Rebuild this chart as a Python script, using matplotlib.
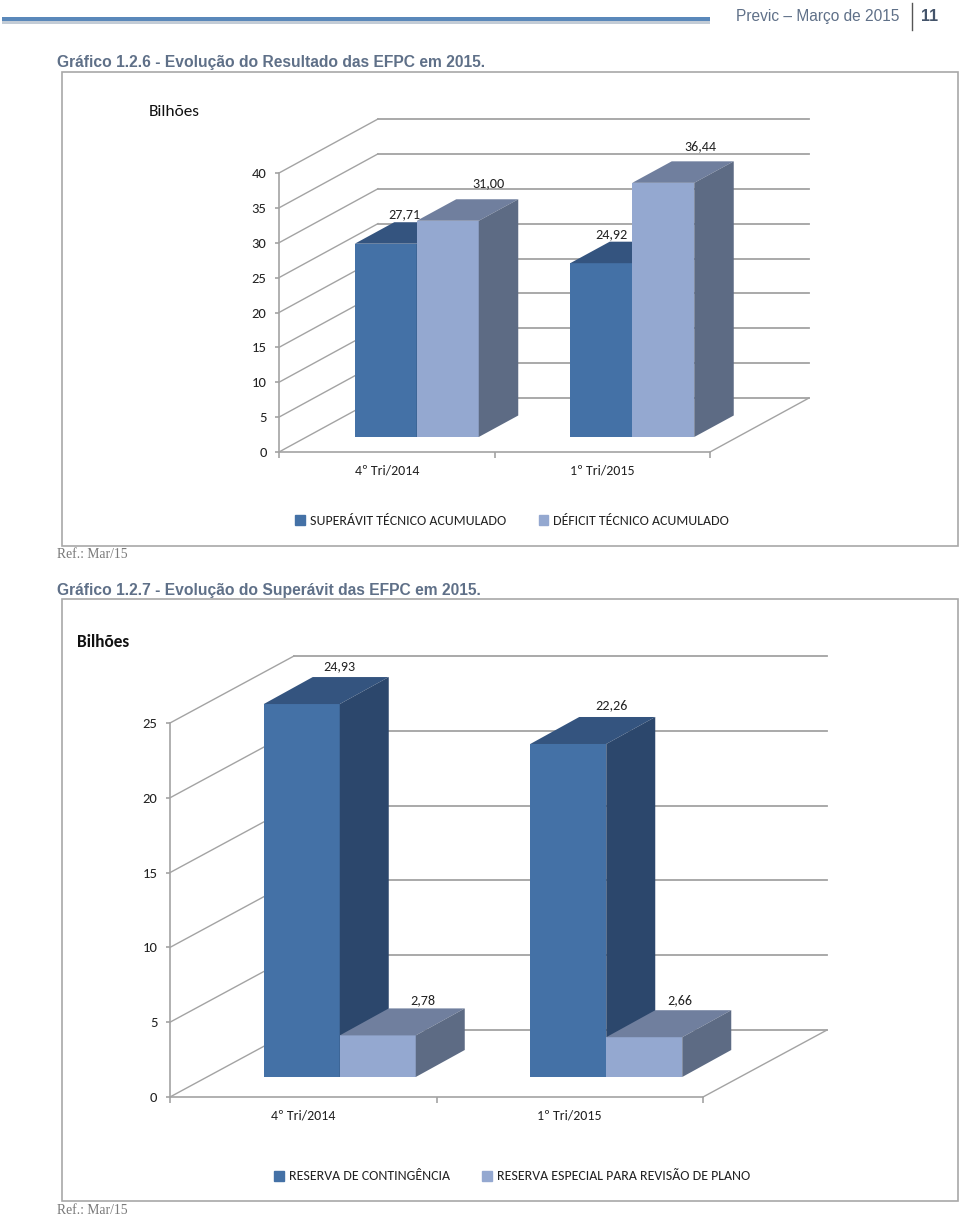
import matplotlib
matplotlib.use("Agg")
from matplotlib import pyplot as plt
from matplotlib.patches import Patch, Rectangle

W, H = 960, 1217
LABEL_FONT = ["Carlito", "Lato", "DejaVu Sans"]
PAGE_FONT = "Liberation Sans"
GRID = "#a3a3a3"
TITLE_COLOR = "#5f7088"

# grafico 1.2.6
categories_1 = ["4º Tri/2014", "1º Tri/2015"]
superavit = [27.71, 24.92]
deficit = [31.00, 36.44]
labels_1a = ["27,71", "24,92"]
labels_1b = ["31,00", "36,44"]
ticks_1 = [0, 5, 10, 15, 20, 25, 30, 35, 40]
legend_1 = ["SUPERÁVIT TÉCNICO ACUMULADO", "DÉFICIT TÉCNICO ACUMULADO"]

# grafico 1.2.7
categories_2 = ["4º Tri/2014", "1º Tri/2015"]
contingencia = [24.93, 22.26]
especial = [2.78, 2.66]
labels_2a = ["24,93", "22,26"]
labels_2b = ["2,78", "2,66"]
ticks_2 = [0, 5, 10, 15, 20, 25]
legend_2 = ["RESERVA DE CONTINGÊNCIA", "RESERVA ESPECIAL PARA REVISÃO DE PLANO"]

blue = ("#4471a6", "#34547f", "#2c476c")      # front, top, side
light = ("#94a8d0", "#707f9e", "#5d6b84")


def px_axes(fig, x0, x1, y0, y1):
    return fig.add_axes([x0 / W, 1 - y0 / H, (x1 - x0) / W, (y0 - y1) / H])


def make_chart(fig, box, ymax, ticks, cats, depth, fs=10.5):
    x0, x1, y0, y1 = box
    ax = px_axes(fig, x0, x1, y0, y1)
    ax.set_xlim(0, len(cats))
    ax.set_ylim(0, ymax)
    ax.patch.set_visible(False)
    for s in ["top", "right"]:
        ax.spines[s].set_visible(False)
    for s in ["left", "bottom"]:
        ax.spines[s].set_color(GRID)
        ax.spines[s].set_linewidth(1.2)
    ax.set_yticks(ticks)
    ax.set_xticks(range(len(cats) + 1))
    ax.set_xticklabels([""] * (len(cats) + 1))
    ax.set_xticks([i + 0.5 for i in range(len(cats))], cats, minor=True)
    ax.tick_params(axis="y", length=3, color=GRID, width=1.2, pad=6, labelsize=fs, labelcolor="#222222")
    ax.tick_params(axis="x", which="major", length=4, color=GRID, width=1.2)
    ax.tick_params(axis="x", which="minor", length=0, pad=9, labelsize=10, labelcolor="#222222")
    for t in ax.get_yticklabels() + ax.get_xticklabels(minor=True):
        t.set_fontfamily(LABEL_FONT)
    # pixel depth of the walls -> data units
    kx = len(cats) / (x1 - x0)
    ky = ymax / (y0 - y1)
    dx, dy = depth[0] * kx, depth[1] * ky
    for v in ticks:
        ax.plot([0, dx], [v, v + dy], color=GRID, lw=1.0, clip_on=False, zorder=1)
        ax.plot([dx, len(cats) + dx], [v + dy, v + dy], color=GRID, lw=1.3, clip_on=False, zorder=1)
    ax.plot([len(cats), len(cats) + dx], [0, dy], color=GRID, lw=1.0, clip_on=False, zorder=1)
    return ax, kx, ky


def bar3d(ax, x, width, val, shift, depth, cols, z):
    # shift = (dx, dy) of front face, depth = (dx, dy) of the box, data units
    bx, by = shift
    dx, dy = depth
    l, r = x + bx, x + width + bx
    b, t = by, by + val
    ax.fill([l, r, r, l], [b, b, t, t], color=cols[0], lw=0, clip_on=False, zorder=z)
    ax.fill([l, r, r + dx, l + dx], [t, t, t + dy, t + dy], color=cols[1], lw=0, clip_on=False, zorder=z)
    ax.fill([r, r + dx, r + dx, r], [b, b + dy, t + dy, t], color=cols[2], lw=0, clip_on=False, zorder=z)


def value_label(ax, x, y, txt, off, fs=10.2):
    ax.annotate(txt, (x, y), xytext=off, xycoords="data", textcoords="offset pixels",
                ha="center", va="center", fontsize=fs, family=LABEL_FONT, color="#222222",
                annotation_clip=False, zorder=9)


def chart_legend(ax, labels, y_px):
    ax.legend(handles=[Patch(color=blue[0]), Patch(color=light[0])], labels=labels, ncol=2, frameon=False,
              loc="center", bbox_to_anchor=(512 / W, 1 - y_px / H), bbox_transform=fig.transFigure,
              prop={"family": LABEL_FONT, "size": 10}, handlelength=0.7, handleheight=0.7,
              handletextpad=0.35, columnspacing=2.35, labelcolor="#222222")


fig = plt.figure(figsize=(W / 100, H / 100), dpi=100, facecolor="white")

# page layer, in pixels
page = fig.add_axes([0, 0, 1, 1])
page.set_xlim(0, W)
page.set_ylim(H, 0)
page.axis("off")
page.add_patch(Rectangle((2, 20.5), 708, 3, color="#c3ccd6", lw=0))
page.add_patch(Rectangle((2, 16.5), 708, 4.5, color="#5a88ba", lw=0))
page.plot([912, 912], [3, 30], color="#555555", lw=1)
page.text(736, 16.5, "Previc – Março de 2015", family=PAGE_FONT, fontsize=11.2, color=TITLE_COLOR, va="center")
page.text(921, 16.5, "11", family=PAGE_FONT, fontsize=11.5, weight="bold", color="#44546a", va="center")
page.text(57, 62.5, "Gráfico 1.2.6 - Evolução do Resultado das EFPC em 2015.", family=PAGE_FONT,
          fontsize=11.25, weight="bold", color=TITLE_COLOR, va="center")
page.text(57, 590.5, "Gráfico 1.2.7 - Evolução do Superávit das EFPC em 2015.", family=PAGE_FONT,
          fontsize=11.25, weight="bold", color=TITLE_COLOR, va="center")
page.text(57, 555, "Ref.: Mar/15", family="Liberation Serif", fontsize=9.8, color="#7a7a7a", va="center")
page.text(57, 1210, "Ref.: Mar/15", family="Liberation Serif", fontsize=9.8, color="#7a7a7a", va="center")
page.add_patch(Rectangle((61.5, 72), 896, 473.5, fill=False, ec="#a8a8a8", lw=1.2))
page.add_patch(Rectangle((61.5, 599), 896, 602, fill=False, ec="#a8a8a8", lw=1.2))
page.text(174.5, 112, "Bilhões", family=LABEL_FONT, fontsize=12.4, color="#111111", ha="center", va="center")
page.text(103, 642, "Bilhões", family=LABEL_FONT, fontsize=12.4, weight="bold", color="#111111", ha="center", va="center")

# chart 1
ax1, kx, ky = make_chart(fig, (279, 710, 452, 173), 40, ticks_1, categories_1, (99, 54))
shift = (30 * kx, 15 * ky)
box = (39.5 * kx, 21.5 * ky)
w = 62 * kx
offs_a = [(19, 30), (10, 29)]
offs_b = [(41, 38), (37, 37)]
for i in range(len(categories_1)):
    xc = i + 0.5
    bar3d(ax1, xc - w, w, superavit[i], shift, box, blue, 3)
    bar3d(ax1, xc, w, deficit[i], shift, box, light, 4)
    value_label(ax1, xc - w / 2 + shift[0], superavit[i] + shift[1], labels_1a[i], offs_a[i])
    value_label(ax1, xc + w / 2 + shift[0], deficit[i] + shift[1], labels_1b[i], offs_b[i])
chart_legend(ax1, legend_1, 521)

# chart 2
ax2, kx, ky = make_chart(fig, (170, 703, 1097, 723), 25, ticks_2, categories_2, (124, 67))
shift = (36.5 * kx, 20 * ky)
box = (49 * kx, 27 * ky)
w = 76 * kx
offs_a = [(38, 38), (43, 39)]
offs_b = [(45, 35), (36, 37)]
for i in range(len(categories_2)):
    xc = i + 0.5
    bar3d(ax2, xc - w, w, contingencia[i], shift, box, blue, 3)
    bar3d(ax2, xc, w, especial[i], shift, box, light, 4)
    value_label(ax2, xc - w / 2 + shift[0], contingencia[i] + shift[1], labels_2a[i], offs_a[i])
    value_label(ax2, xc + w / 2 + shift[0], especial[i] + shift[1], labels_2b[i], offs_b[i])
chart_legend(ax2, legend_2, 1176.5)

fig.savefig("out.png", dpi=100)
